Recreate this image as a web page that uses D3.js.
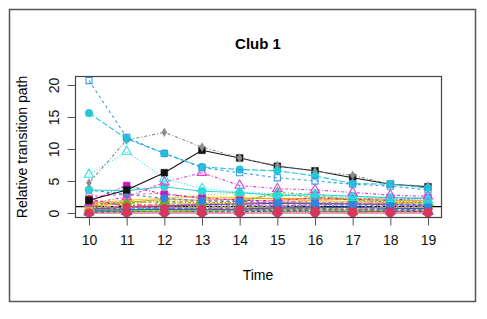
<!DOCTYPE html>
<html>
<head>
<meta charset="utf-8">
<script src="https://cdn.jsdelivr.net/npm/d3@7"></script>
<style>
body { margin: 0; background: #fff; }
svg { font-family: "Liberation Sans", Arial, sans-serif; display: block; }
</style>
</head>
<body>
<svg width="487" height="319"></svg>
<script>
// values
var times = [10, 11, 12, 13, 14, 15, 16, 17, 18, 19];
var yTicks = [0, 5, 10, 15, 20];
var refLine = 1;

var blueSquare      = [20.7, 11.8, 9.3, 7.1, 6.3, 5.5, 5.0, 4.5, 4.2, 3.6];
var cyanCircle      = [15.6, 11.6, 9.3, 7.2, 6.8, 6.6, 5.8, 4.6, 4.5, 3.9];
var grayDiamond     = [4.7, 11.4, 12.6, 10.3, 8.6, 7.4, 6.5, 5.9, 4.5, 4.2];
var blackSquare     = [2.0, 3.6, 6.3, 9.8, 8.6, 7.3, 6.6, 5.5, 4.5, 4.1];
var cyanTriangle    = [6.0, 9.6, 5.4, 3.8, 3.3, 3.0, 2.6, 2.4, 2.2, 2.0];
var magentaTriangle = [1.5, 2.5, 4.8, 6.3, 4.3, 3.8, 3.6, 3.2, 2.8, 2.6];
var turqCircle      = [3.6, 3.5, 4.1, 3.4, 3.2, 2.7, 2.9, 2.6, 2.4, 2.3];
var blueCircle      = [3.6, 2.9, 2.3, 1.9, 1.8, 1.6, 1.5, 1.4, 1.4, 1.3];
var magentaSquare   = [1.8, 4.3, 2.9, 2.4, 2.0, 1.9, 2.4, 2.1, 2.0, 2.4];
var crimsonHigh     = [2.2, 1.0, 0.8, 0.7, 0.6, 0.5, 0.5, 0.5, 0.4, 0.4];
var crimsonZero     = [0, 0, 0, 0, 0, 0, 0, 0, 0, 0];
var orangeSolid     = [1.0, 1.7, 2.1, 2.0, 2.2, 2.3, 2.2, 2.1, 2.0, 1.9];
var goldSquare      = [1.3, 1.5, 1.8, 1.9, 2.1, 2.8, 2.5, 2.3, 2.1, 1.9];
var greenTriangle   = [1.4, 1.6, 1.8, 1.6, 1.7, 3.2, 2.9, 2.0, 1.7, 1.6];
var limeDotted      = [0.8, 1.3, 2.4, 2.8, 3.1, 3.0, 2.5, 2.1, 1.9, 1.6];
var pinkDashed      = [2.6, 2.9, 3.1, 2.2, 2.0, 1.9, 1.7, 1.6, 1.5, 1.4];
var purpleSolid     = [0.6, 0.9, 1.1, 1.3, 1.4, 1.5, 1.5, 1.4, 1.3, 1.2];
var blueSolid       = [0.4, 0.5, 0.6, 0.5, 0.6, 0.8, 0.8, 0.9, 0.7, 0.7];
var grayLow         = [0.9, 1.0, 1.1, 1.0, 1.0, 1.1, 1.2, 1.1, 1.0, 1.0];
var tealLow         = [0.3, 0.4, 0.5, 0.6, 0.5, 0.4, 0.4, 0.5, 0.4, 0.3];
var greenLow        = [0.2, 0.3, 0.2, 0.3, 0.4, 0.3, 0.3, 0.2, 0.3, 0.3];
var violetLow       = [0.5, 0.6, 0.4, 0.3, 0.3, 0.2, 0.3, 0.3, 0.2, 0.2];
var salmonLow       = [1.2, 0.9, 0.7, 0.8, 0.9, 1.0, 0.9, 0.8, 0.8, 0.7];
var yellowLow       = [0.7, 0.8, 1.4, 1.5, 1.6, 1.7, 1.6, 1.5, 1.5, 1.4];
var navyLow         = [0.1, 0.2, 0.3, 0.2, 0.2, 0.3, 0.4, 0.3, 0.3, 0.2];
var magentaLow      = [1.6, 1.2, 1.0, 1.3, 1.2, 1.1, 1.3, 1.5, 1.6, 1.8];
var skyLow          = [1.1, 1.9, 1.5, 1.2, 1.3, 1.4, 1.3, 1.2, 1.2, 1.1];
var orchidLow       = [0.4, 0.7, 1.6, 1.9, 1.8, 1.6, 1.4, 1.3, 1.2, 1.0];
var oliveLow        = [0.6, 0.5, 0.9, 1.1, 1.0, 0.9, 1.0, 0.9, 0.9, 0.8];
var coralLow        = [1.9, 1.4, 1.2, 1.4, 1.5, 1.7, 2.0, 2.2, 2.4, 2.2];
var mintLow         = [0.3, 0.6, 0.8, 0.7, 0.8, 0.7, 0.6, 0.6, 0.5, 0.5];
var plumLow         = [0.9, 0.6, 0.5, 0.4, 0.5, 0.6, 0.7, 0.6, 0.6, 0.5];
var amberLow        = [1.5, 2.0, 2.3, 2.5, 2.4, 2.2, 1.9, 1.8, 1.7, 1.6];
var limeLow         = [0.5, 0.4, 0.3, 0.4, 0.5, 0.6, 0.5, 0.4, 0.4, 0.4];

// drawing order (first drawn = bottom)
var series = [
    {v: grayLow,         col: '#9a9a9a', lty: 'dotdash',  pch: 'circle',   fill: true},
    {v: tealLow,         col: '#1fa69a', lty: 'dashed',   pch: 'square',   fill: true},
    {v: greenLow,        col: '#4caf50', lty: 'solid',    pch: 'triangle', fill: true},
    {v: violetLow,       col: '#8e44ad', lty: 'dotted',   pch: 'circle',   fill: true},
    {v: salmonLow,       col: '#f08080', lty: 'longdash', pch: 'square',   fill: false},
    {v: yellowLow,       col: '#f2d22e', lty: 'solid',    pch: 'diamond',  fill: true},
    {v: navyLow,         col: '#3a4fc9', lty: 'dashed',   pch: 'triangle', fill: false},
    {v: magentaLow,      col: '#e040d0', lty: 'twodash',  pch: 'circle',   fill: false},
    {v: skyLow,          col: '#5ab4f0', lty: 'dashed',   pch: 'square',   fill: false},
    {v: orchidLow,       col: '#d35fd3', lty: 'dashed',   pch: 'triangle', fill: false},
    {v: oliveLow,        col: '#8fa02a', lty: 'dotted',   pch: 'circle',   fill: true},
    {v: coralLow,        col: '#f37a5a', lty: 'twodash',  pch: 'circle',   fill: false},
    {v: mintLow,         col: '#3cc98a', lty: 'longdash', pch: 'diamond',  fill: true},
    {v: plumLow,         col: '#a64ca6', lty: 'dashed',   pch: 'square',   fill: true},
    {v: amberLow,        col: '#f7c430', lty: 'solid',    pch: 'triangle', fill: true},
    {v: limeLow,         col: '#9bd12f', lty: 'solid',    pch: 'circle',   fill: true},
    {v: purpleSolid,     col: '#7b3fbf', lty: 'solid',    pch: 'square',   fill: true},
    {v: blueSolid,       col: '#2f5fd0', lty: 'solid',    pch: 'circle',   fill: true},
    {v: pinkDashed,      col: '#ff6fa8', lty: 'dashed',   pch: 'circle',   fill: false},
    {v: limeDotted,      col: '#8fdc3c', lty: 'dotted',   pch: 'triangle', fill: false},
    {v: orangeSolid,     col: '#f5a21b', lty: 'solid',    pch: 'circle',   fill: true},
    {v: goldSquare,      col: '#f2b90c', lty: 'dashed',   pch: 'square',   fill: true},
    {v: greenTriangle,   col: '#5cb82e', lty: 'dotdash',  pch: 'triangle', fill: true},
    {v: crimsonHigh,     col: '#d9365e', lty: 'dashed',   pch: 'circle',   fill: true},
    {v: magentaSquare,   col: '#c616c0', lty: 'dotdash',  pch: 'square',   fill: true},
    {v: blueCircle,      col: '#2e86de', lty: 'dashed',   pch: 'circle',   fill: true},
    {v: turqCircle,      col: '#2dd4d8', lty: 'solid',    pch: 'circle',   fill: true},
    {v: magentaTriangle, col: '#e040d0', lty: 'dotdash',  pch: 'triangle', fill: false},
    {v: cyanTriangle,    col: '#2ce0e8', lty: 'dotted',   pch: 'triangle', fill: false},
    {v: blackSquare,     col: '#111111', lty: 'solid',    pch: 'square',   fill: true},
    {v: grayDiamond,     col: '#8c8c8c', lty: 'dotdash',  pch: 'diamond',  fill: true, small: true},
    {v: cyanCircle,      col: '#22c8d6', lty: 'longdash', pch: 'circle',   fill: true},
    {v: blueSquare,      col: '#3d9be9', lty: 'dashed',   pch: 'square',   fill: false},
    {v: crimsonZero,     col: '#d9365e', lty: 'solid',    pch: 'circle',   fill: true, big: true}
];

var dashes = {solid: null, dashed: '3,3', dotted: '1,2', dotdash: '1,2,3,2',
    longdash: '6,2', twodash: '2,2,5,2'};
var shapes = {circle: d3.symbolCircle, square: d3.symbolSquare,
    triangle: d3.symbolTriangle, diamond: d3.symbolDiamond};

var svg = d3.select('svg');
var width = +svg.attr('width');
var height = +svg.attr('height');

svg.append('rect').attr('width', width).attr('height', height).attr('fill', '#fff');
svg.append('rect')
    .attr('x', 9.5).attr('y', 9.5)
    .attr('width', 466).attr('height', 292)
    .attr('fill', 'none').attr('stroke', '#555').attr('stroke-width', 1.5);

var box = {left: 75.5, right: 441.5, top: 76.5, bottom: 217.5};

var xScale = d3.scaleLinear().domain([10, 19]).range([89, 428]);
var yScale = d3.scaleLinear().domain([0, 20]).range([213, 85]);

var line = d3.line()
    .x(function(d, i) { return xScale(times[i]); })
    .y(function(d) { return yScale(d); });

var plotG = svg.append('g');

plotG.append('line')
    .attr('x1', box.left).attr('x2', box.right)
    .attr('y1', yScale(refLine)).attr('y2', yScale(refLine))
    .attr('stroke', '#000').attr('stroke-width', 1.2);

series.forEach(function(s) {
    var g = plotG.append('g');
    g.append('path')
        .attr('d', line(s.v))
        .attr('fill', 'none')
        .attr('stroke', s.col)
        .attr('stroke-width', 1.1)
        .attr('stroke-dasharray', dashes[s.lty]);
    var size = s.small ? 22 : (s.big ? 60 : (s.fill ? 46 : 38));
    g.selectAll('path.pt')
        .data(s.v)
        .enter()
        .append('path')
        .attr('class', 'pt')
        .attr('transform', function(d, i) {
            return 'translate(' + xScale(times[i]) + ',' + yScale(d) + ')';
        })
        .attr('d', d3.symbol().type(shapes[s.pch]).size(size))
        .attr('fill', s.fill ? s.col : 'none')
        .attr('stroke', s.col)
        .attr('stroke-width', s.fill ? 0.5 : 1.1);
});

// box
svg.append('rect')
    .attr('x', box.left).attr('y', box.top)
    .attr('width', box.right - box.left).attr('height', box.bottom - box.top)
    .attr('fill', 'none').attr('stroke', '#444').attr('stroke-width', 1.2);

// axes
var xAxis = svg.append('g')
    .attr('transform', 'translate(0,' + box.bottom + ')')
    .call(d3.axisBottom(xScale).tickValues(times).tickSize(8).tickPadding(10).tickFormat(d3.format('d')));
xAxis.select('.domain').remove();
xAxis.selectAll('line').attr('stroke', '#555');
xAxis.selectAll('text').attr('font-size', 14).attr('fill', '#111');

var yAxis = svg.append('g')
    .attr('transform', 'translate(' + box.left + ',0)')
    .call(d3.axisLeft(yScale).tickValues(yTicks).tickSize(8).tickFormat(d3.format('d')));
yAxis.select('.domain').remove();
yAxis.selectAll('line').attr('stroke', '#555');
yAxis.selectAll('text')
    .attr('x', null).attr('dy', null)
    .attr('text-anchor', 'middle')
    .attr('font-size', 14).attr('fill', '#111')
    .attr('transform', 'translate(-17,0) rotate(-90)');

svg.append('text')
    .attr('x', 258).attr('y', 49)
    .attr('text-anchor', 'middle')
    .attr('font-weight', 'bold').attr('font-size', 15)
    .text('Club 1');

svg.append('text')
    .attr('x', 258).attr('y', 280)
    .attr('text-anchor', 'middle')
    .attr('font-size', 14)
    .text('Time');

svg.append('text')
    .attr('transform', 'translate(27,147) rotate(-90)')
    .attr('text-anchor', 'middle')
    .attr('font-size', 14)
    .text('Relative transition path');
</script>
</body>
</html>
